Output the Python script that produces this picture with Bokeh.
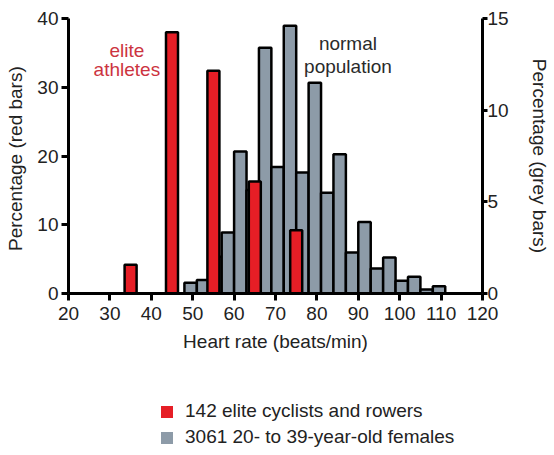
from bokeh.plotting import figure
from bokeh.layouts import column
from bokeh.models import Range1d, LinearAxis, Legend, LegendItem, FixedTicker, ColumnDataSource
from bokeh.core.properties import value
from bokeh.embed import file_html
from bokeh.resources import INLINE

# ---- data ----
red_hr = [35, 45, 55, 65, 75]
red_pct = [4.2, 38.0, 32.4, 16.3, 9.2]

grey_hr = [49.5, 52.5, 55.5, 58.5, 61.5, 64.5, 67.5, 70.5, 73.5, 76.5, 79.5,
           82.5, 85.5, 88.5, 91.5, 94.5, 97.5, 100.5, 103.5, 106.5, 109.5]
grey_pct = [0.58, 0.73, 2.0, 3.33, 7.74, 5.64, 13.4, 6.9, 14.6, 6.6, 11.5,
            5.5, 7.6, 2.24, 3.9, 1.37, 1.97, 0.69, 0.91, 0.22, 0.4]

x_ticks = [20, 30, 40, 50, 60, 70, 80, 90, 100, 110, 120]
left_ticks = [0, 10, 20, 30, 40]
right_ticks = [0, 5, 10, 15]

red_label = "142 elite cyclists and rowers"
grey_label = "3061 20- to 39-year-old females"

RED = "#e61e26"
GREY = "#8d9ba8"
TXT = "#222222"
FONT = "Liberation Sans"
FS = "19px"

p = figure(width=554, height=380, output_backend="svg", toolbar_location=None,
           x_range=Range1d(20, 120), y_range=Range1d(0, 40),
           min_border_left=68, min_border_right=72, min_border_top=18,
           min_border_bottom=87)
p.extra_y_ranges = {"grey": Range1d(0, 15)}
p.xgrid.visible = False
p.ygrid.visible = False
p.outline_line_color = None

grey_src = ColumnDataSource(dict(x=grey_hr, top=grey_pct))
red_src = ColumnDataSource(dict(x=red_hr, top=red_pct))

p.vbar(x="x", top="top", width=3.0, source=grey_src, y_range_name="grey",
       fill_color=GREY, line_color="black", line_width=2.5)
p.vbar(x="x", top="top", width=2.9, source=red_src,
       fill_color=RED, line_color="black", line_width=2.5)

right_axis = LinearAxis(y_range_name="grey")
p.add_layout(right_axis, "right")

p.xaxis.axis_label = "Heart rate (beats/min)"
p.yaxis[0].axis_label = "Percentage  (red bars)"
right_axis.axis_label = "Percentage (grey bars)"

p.xaxis.ticker = FixedTicker(ticks=x_ticks)
p.yaxis[0].ticker = FixedTicker(ticks=left_ticks)
right_axis.ticker = FixedTicker(ticks=right_ticks)

for ax in [p.xaxis[0], p.yaxis[0], right_axis]:
    ax.axis_line_color = "black"
    ax.axis_line_width = 3
    ax.major_tick_line_color = "black"
    ax.major_tick_line_width = 3
    ax.major_tick_in = 0
    ax.major_tick_out = 7
    ax.minor_tick_line_color = None
    ax.major_label_text_font = FONT
    ax.major_label_text_font_size = FS
    ax.major_label_text_color = TXT
    ax.axis_label_text_font = FONT
    ax.axis_label_text_font_size = FS
    ax.axis_label_text_font_style = "normal"
    ax.axis_label_text_color = TXT

p.xaxis.major_label_standoff = 6
p.xaxis.axis_label_standoff = 8
p.yaxis[0].major_label_standoff = 3
p.yaxis[0].axis_label_standoff = 8
right_axis.major_tick_out = 5
right_axis.major_label_standoff = 0
right_axis.axis_label_standoff = 17

# annotations
p.text(x=[34.1], y=[35.4], text=["elite"], text_align="center", text_baseline="alphabetic",
       text_font=value(FONT), text_font_size=FS, text_color="#cc3340")
p.text(x=[34.1], y=[32.6], text=["athletes"], text_align="center", text_baseline="alphabetic",
       text_font=value(FONT), text_font_size=FS, text_color="#cc3340")
p.text(x=[87.5], y=[36.3], text=["normal"], text_align="center", text_baseline="alphabetic",
       text_font=value(FONT), text_font_size=FS, text_color="#2a2a2a")
p.text(x=[87.5], y=[33.0], text=["population"], text_align="center", text_baseline="alphabetic",
       text_font=value(FONT), text_font_size=FS, text_color="#2a2a2a")

# legend panel below (its frame is aligned with the main frame by the column)
p2 = figure(width=554, height=70, output_backend="svg", toolbar_location=None,
            x_range=Range1d(20, 120), y_range=Range1d(0, 40),
            min_border_left=68, min_border_right=72, min_border_top=0, min_border_bottom=0,
            x_axis_type=None, y_axis_type=None)
p2.xgrid.visible = False
p2.ygrid.visible = False
p2.outline_line_color = None
# hidden proxies that only provide the legend swatches
leg_red = p2.vbar(x="x", top="top", width=2.9, source=red_src,
                  fill_color=RED, line_color=None, visible=False)
leg_grey = p2.vbar(x="x", top="top", width=3.0, source=grey_src,
                   fill_color=GREY, line_color=None, visible=False)
legend = Legend(items=[LegendItem(label=red_label, renderers=[leg_red]),
                       LegendItem(label=grey_label, renderers=[leg_grey])],
                location=(91, 2), border_line_color=None, background_fill_alpha=0,
                padding=0, margin=0, spacing=4, glyph_width=15, glyph_height=15,
                label_height=15, label_standoff=11,
                inactive_fill_alpha=0,
                label_text_font=FONT, label_text_font_size=FS, label_text_color=TXT)
p2.add_layout(legend)

layout = column(p, p2, spacing=0)
open("out.html", "w").write(file_html(layout, INLINE))
